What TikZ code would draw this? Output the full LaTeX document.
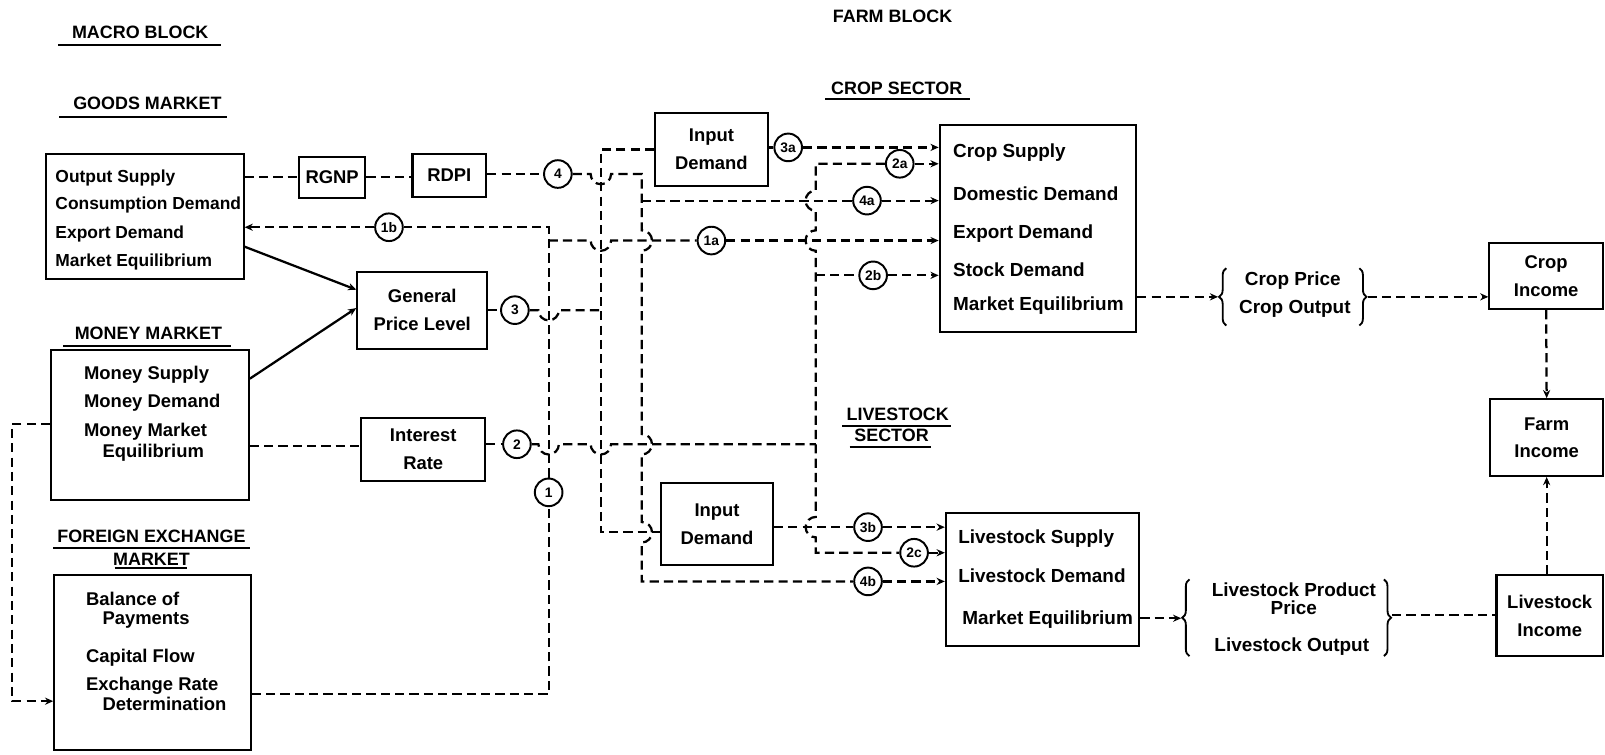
\documentclass[tikz,border=0pt]{standalone}
\usepackage{fontspec}
\setmainfont{Liberation Sans}
\usetikzlibrary{arrows.meta,decorations.pathreplacing}
\newcommand{\boxfont}{\fontsize{18}{27}\selectfont\bfseries}
\newcommand{\goodsfont}{\fontsize{17}{27}\selectfont\bfseries}
\newcommand{\bigboxfont}{\fontsize{18.5}{27}\selectfont\bfseries}
\newcommand{\headfont}{\fontsize{17.5}{21}\selectfont\bfseries}
\newcommand{\circfont}{\fontsize{13.5}{15}\selectfont\bfseries}
\begin{document}
\begin{tikzpicture}[x=1pt,y=-1pt,
 bx/.style={draw, line width=2pt, inner sep=0pt, align=center, font=\boxfont},
 txt/.style={inner sep=0pt, font=\boxfont, anchor=base west},
 ctxt/.style={inner sep=0pt, font=\bigboxfont, anchor=base},
 hd/.style={inner sep=0pt, font=\headfont},
 cir/.style={circle, draw, line width=1.9pt, minimum size=27pt, inner sep=0pt, font=\circfont},
 dl/.style={line width=2.2pt, dash pattern=on 9pt off 5pt},
 sl/.style={line width=2.2pt},
 ar/.style={-{Stealth[length=8pt,width=7pt]}},
 ul/.style={line width=1.9pt},
 brc/.style={line width=1.8pt, decorate, decoration={brace, amplitude=7pt}},
]
\useasboundingbox (0,0) rectangle (1568,737);

% headers
\node[hd] (hmacro) at (137,32) {MACRO BLOCK};
\draw[ul] (57,44) -- (216,44);
\node[hd] (hfarm) at (872,16) {FARM BLOCK};
\node[hd] (hgoods) at (144,101) {GOODS MARKET};
\draw[ul] (58,114) -- (222,114);
\node[hd] (hcrop) at (876,86) {CROP SECTOR};
\draw[ul] (806,97) -- (948,97);
\node[hd] (hmoney) at (145,326) {MONEY MARKET};
\draw[ul] (62,338) -- (226,338);
\node[hd] (hlive) at (877,405) {LIVESTOCK};
\draw[ul] (823,416) -- (929,416);
\node[hd] (hsector) at (871,425) {SECTOR};
\draw[ul] (830,437) -- (910,437);
\node[hd] (hfx) at (148,524) {FOREIGN EXCHANGE};
\draw[ul] (52,535) -- (244,535);
\node[hd] (hfx2) at (148,546) {MARKET};
\draw[ul] (112,555) -- (183,555);

% boxes
\node[bx, minimum width=193pt, minimum height=123pt] (goods) at (141.5,211.5) {};
\node[txt, font=\goodsfont] (g1) at (54,178) {Output Supply};
\node[txt, font=\goodsfont] (g2) at (54,205) {Consumption Demand};
\node[txt, font=\goodsfont] (g3) at (54,233) {Export Demand};
\node[txt, font=\goodsfont] (g4) at (54,260) {Market Equilibrium};

\node[bx, minimum width=65pt, minimum height=40pt] (rgnp) at (324.5,173) {RGNP};
\node[bx, minimum width=72pt, minimum height=42pt] (rdpi) at (439,171) {RDPI};
\node[bx, minimum width=127pt, minimum height=75pt] (gpl) at (412.5,303) {General\\Price Level};

\node[bx, minimum width=193pt, minimum height=146pt] (money) at (146.5,415) {};
\node[txt] (m1) at (82,371) {Money Supply};
\node[txt] (m2) at (82,398) {Money Demand};
\node[txt] (m3) at (82,426) {Money Market};
\node[txt] (m4) at (100,447) {Equilibrium};

\node[bx, minimum width=121pt, minimum height=62pt] (irate) at (413.5,439) {Interest\\Rate};

\node[bx, minimum width=192pt, minimum height=171pt] (fx) at (149,647.5) {};
\node[txt] (f1) at (84,592) {Balance of};
\node[txt] (f2) at (100,610) {Payments};
\node[txt] (f3) at (84,647) {Capital Flow};
\node[txt] (f4) at (84,675) {Exchange Rate};
\node[txt] (f5) at (100,694) {Determination};

\node[bx, minimum width=110pt, minimum height=72pt] (inA) at (695,146) {Input\\Demand};
\node[bx, minimum width=109pt, minimum height=80pt] (inB) at (700.5,512) {Input\\Demand};

\node[bx, minimum width=192pt, minimum height=202pt] (crop) at (1014,223) {};
\node[txt, font=\bigboxfont] (k1) at (931,154) {Crop Supply};
\node[txt, font=\bigboxfont] (k2) at (931,196) {Domestic Demand};
\node[txt, font=\bigboxfont] (k3) at (931,233) {Export Demand};
\node[txt, font=\bigboxfont] (k4) at (931,270) {Stock Demand};
\node[txt, font=\bigboxfont] (k5) at (931,303) {Market Equilibrium};

\node[bx, minimum width=189pt, minimum height=130pt] (live) at (1018.5,566) {};
\node[txt, font=\bigboxfont] (l1) at (936,531) {Livestock Supply};
\node[txt, font=\bigboxfont] (l2) at (936,569) {Livestock Demand};
\node[txt, font=\bigboxfont] (l3) at (940,610) {Market Equilibrium};

\node[bx, minimum width=111pt, minimum height=65pt] (cinc) at (1510.5,269.5) {Crop\\Income};
\node[bx, minimum width=110pt, minimum height=75pt] (finc) at (1511,427.5) {Farm\\Income};
\node[bx, minimum width=104pt, minimum height=79pt] (linc) at (1514,601.5) {Livestock\\Income};

% brace groups
\node[ctxt] (cp1) at (1263,279) {Crop Price};
\node[ctxt] (cp2) at (1265,306) {Crop Output};
\draw[brc] (1198,318) -- (1198,262);
\draw[brc] (1328,262) -- (1328,318);
\coordinate (cbl) at (1190,290);
\coordinate (cbr) at (1336,290);
\node[ctxt] (lp1) at (1264,583) {Livestock Product};
\node[ctxt] (lp2) at (1264,600) {Price};
\node[ctxt] (lp3) at (1262,636) {Livestock Output};
\draw[brc] (1162,641) -- (1162,566);
\draw[brc] (1352,566) -- (1352,641);
\coordinate (lbl) at (1154,604);
\coordinate (lbr) at (1360,601);

% circles
\node[cir] (c4) at (545,170) {4};
\node[cir] (c1b) at (380,222) {1b};
\node[cir] (c3) at (503,303) {3};
\node[cir] (c2) at (505,434) {2};
\node[cir] (c1) at (536,481) {1};
\node[cir] (c3a) at (770,144) {3a};
\node[cir] (c2a) at (879,160) {2a};
\node[cir] (c4a) at (847,196) {4a};
\node[cir] (c1a) at (695,235) {1a};
\node[cir] (c2b) at (853,269) {2b};
\node[cir] (c3b) at (848,515) {3b};
\node[cir] (c2c) at (893,540) {2c};
\node[cir] (c4b) at (848,568) {4b};

% goods chain
\draw[dl] (goods.east |- rgnp) -- (rgnp.west);
\draw[dl] (rgnp.east) -- (rdpi.west |- rgnp);
\draw[dl] (rdpi.east |- c4) -- (c4.west);
% income line (4)
\draw[dl] (c4.east) -- (577,170) arc[start angle=180,end angle=360,radius=10pt] -- (627,170)
  -- (627,225) arc[start angle=90,end angle=-90,radius=10pt]
  -- (627,424) arc[start angle=90,end angle=-90,radius=10pt]
  -- (627,510) arc[start angle=90,end angle=-90,radius=10pt]
  -- (627,568) -- (c4b.west);
\draw[dl] (627,196) -- (c4a.west);
\draw[dl,ar] (c4a.east) -- (crop.west |- c4a);
\draw[dl,ar] (c4b.east) -- (live.west |- c4b);
% exchange rate line (1)
\draw[dl] (fx.east |- 0,678) -- (536,678) -- (c1.south);
\draw[dl] (c1.north) -- (536,222) -- (c1b.east);
\draw[dl,ar] (c1b.west) -- (goods.east |- c1b);
\draw[dl] (536,235) -- (577,235) arc[start angle=180,end angle=360,radius=10pt] -- (c1a.west);
\draw[dl,ar] (c1a.east) -- (crop.west |- c1a);
% price level line (3)
\draw[dl] (gpl.east |- c3) -- (c3.west);
\draw[dl] (c3.east) -- (526,303) arc[start angle=180,end angle=360,radius=10pt] -- (587,303);
\draw[dl] (inA.west |- 0,146) -- (587,146) -- (587,520) -- (inB.west |- 0,520);
\draw[dl] (inA.east |- c3a) -- (c3a.west);
\draw[dl,ar] (c3a.east) -- (crop.west |- c3a);
\draw[dl] (inB.east |- c3b) -- (c3b.west);
\draw[dl,ar] (c3b.east) -- (live.west |- c3b);
% interest line (2)
\draw[dl] (money.east |- 0,436) -- (irate.west |- 0,436);
\draw[dl] (irate.east |- c2) -- (c2.west);
\draw[dl] (c2.east) -- (526,434) arc[start angle=180,end angle=360,radius=10pt]
  -- (577,434) arc[start angle=180,end angle=360,radius=10pt] -- (797,434);
\draw[dl] (c2a.west) -- (797,160)
  -- (797,186) arc[start angle=90,end angle=270,radius=10pt]
  -- (797,225) arc[start angle=90,end angle=270,radius=10pt]
  -- (797,505) arc[start angle=90,end angle=270,radius=10pt]
  -- (797,540) -- (c2c.west);
\draw[dl,ar] (c2a.east) -- (crop.west |- c2a);
\draw[dl] (797,269) -- (c2b.west);
\draw[dl,ar] (c2b.east) -- (crop.west |- c2b);
\draw[dl,ar] (c2c.east) -- (live.west |- c2c);
% solid arrows
\draw[sl,ar] (goods.east |- 0,241) -- (gpl.west |- 0,283);
\draw[sl,ar] (money.east |- 0,370) -- (gpl.west |- 0,301);
% money - fx
\draw[dl,ar] (money.west |- 0,414) -- (12,414) -- (12,685) -- (fx.west |- 0,685);
% farm outputs
\draw[dl,ar] (crop.east |- cbl) -- (cbl);
\draw[dl,ar] (cbr) -- (cinc.west |- cbr);
\draw[dl,ar] (live.east |- lbl) -- (lbl);
\draw[dl] (lbr) -- (linc.west |- lbr);
\draw[dl,ar] (cinc.south) -- (finc.north);
\draw[dl,ar] (linc.north -| finc.south) -- (finc.south);
\end{tikzpicture}
\end{document}
